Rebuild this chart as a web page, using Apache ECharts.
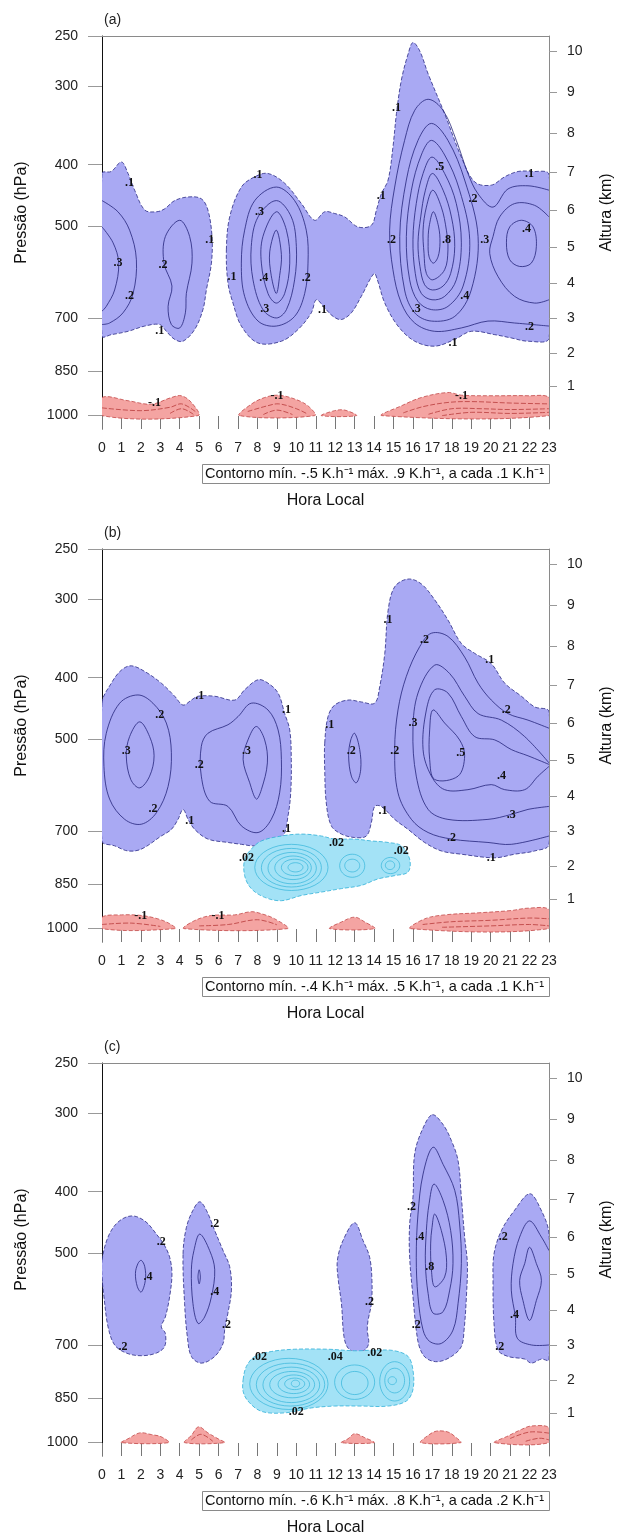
<!DOCTYPE html>
<html>
<head>
<meta charset="utf-8">
<script src="https://cdn.jsdelivr.net/npm/echarts@6.0.0/dist/echarts.min.js"></script>
<style>
html, body { margin: 0; padding: 0; background: #fff; }
#main { width: 621px; height: 1535px; }
</style>
</head>
<body>
<div id="main"></div>
<script>
// eixos
var pressaoTicks = [250, 300, 400, 500, 700, 850, 1000];
var alturaTicks = [1, 2, 3, 4, 5, 6, 7, 8, 9, 10];
var paineis = ['(a)', '(b)', '(c)'];
var legendas = [
    'Contorno mín. -.5 K.h⁻¹ máx. .9 K.h⁻¹, a cada .1 K.h⁻¹',
    'Contorno mín. -.4 K.h⁻¹ máx. .5 K.h⁻¹, a cada .1 K.h⁻¹',
    'Contorno mín. -.6 K.h⁻¹ máx. .8 K.h⁻¹, a cada .2 K.h⁻¹'
];

// ---- painel (a): [hora, hPa] ----
var aRoxo = [
    [[0,413],[0.48,410],[1.0,396],[1.34,413],[1.68,439],[2.2,472],[2.8,475],[3.22,470],[3.74,456],[4.43,450],[5.11,453],[5.45,472],[5.66,520],[5.63,573],[5.37,632],[5.2,678],[4.77,730],[4.17,762],[3.74,757],[3.31,735],[2.97,717],[2.2,721],[1.34,735],[0.48,744],[0,748]],
    [[6.4,546],[6.57,484],[7.17,434],[7.86,418],[8.54,413],[9.4,428],[10.26,461],[10.94,490],[11.46,475],[11.97,478],[12.49,484],[13.17,502],[13.86,499],[14.12,472],[14.37,445],[14.72,423],[14.97,375],[15.15,332],[15.4,294],[15.75,267],[16.0,256],[16.35,264],[16.78,287],[17.63,332],[18.49,389],[19.18,426],[20.03,431],[20.72,418],[21.41,410],[22.09,410],[23,415],[23,753],[21.92,762],[21.06,753],[20.21,744],[19.0,735],[18.15,757],[17.12,776],[16.09,762],[15.23,721],[14.55,663],[14.17,609],[14.0,595],[13.34,647],[12.83,687],[12.32,704],[11.89,696],[11.46,675],[11.03,655],[10.77,687],[10.09,730],[9.23,762],[8.03,767],[7.17,721],[6.74,663],[6.48,616]]
];
var aAneis = [
    [[8.97,434],[9.91,456],[10.51,508],[10.6,573],[10.43,640],[9.91,696],[8.97,721],[8.03,708],[7.34,647],[7.17,573],[7.34,508],[7.86,456]],
    [[8.97,456],[9.74,484],[10.0,539],[9.91,609],[9.49,679],[8.97,700],[8.28,679],[7.77,609],[7.68,539],[8.03,484]],
    [[8.97,475],[9.49,508],[9.66,573],[9.4,640],[8.97,663],[8.54,640],[8.2,573],[8.28,520]],
    [[8.97,508],[9.23,555],[9.14,600],[8.97,640],[8.71,600],[8.63,550]],
    [[4.0,490],[4.51,520],[4.63,573],[4.34,640],[4.29,687],[4.0,726],[3.57,717],[3.4,671],[3.6,623],[3.19,573],[3.26,520]],
    [[16.95,344],[17.8,366],[18.66,423],[19.35,520],[19.0,632],[18.15,696],[16.95,708],[16.09,687],[15.57,632],[15.32,520],[15.66,423],[16.26,366]],
    [[16.95,366],[17.63,386],[18.4,439],[18.92,526],[18.58,623],[17.8,671],[16.95,679],[16.26,659],[15.83,609],[15.66,520],[15.92,439],[16.43,386]],
    [[16.98,389],[17.63,413],[18.23,461],[18.49,532],[18.23,609],[17.63,647],[16.98,655],[16.43,640],[16.12,595],[16.0,526],[16.17,461],[16.52,413]],
    [[17.0,413],[17.55,439],[17.98,484],[18.15,539],[17.94,595],[17.55,623],[17.0,632],[16.6,620],[16.36,580],[16.26,532],[16.4,484],[16.64,439]],
    [[17.02,439],[17.46,467],[17.72,508],[17.8,546],[17.63,587],[17.02,609],[16.69,595],[16.57,553],[16.52,508],[16.69,467]],
    [[17.05,475],[17.32,502],[17.39,532],[17.29,560],[17.05,573],[16.83,560],[16.78,532],[16.83,502]],
    [[21.58,490],[22.18,502],[22.35,539],[22.09,573],[21.49,580],[20.98,566],[20.81,532],[20.98,502]]
];
var aCurvas = [
    [[0,456],[0.82,475],[1.42,508],[1.77,566],[1.6,640],[1.08,687],[0.39,713],[0,717]],
    [[0,502],[0.57,532],[0.86,573],[0.65,632],[0.22,671],[0,683]],
    [[23,439],[21.92,432],[20.89,437],[20.12,467],[19.35,445],[18.83,413],[18.23,366],[17.55,328],[16.78,315],[16.09,328],[15.57,366],[15.06,434],[14.8,508],[14.97,587],[15.4,663],[16.09,713],[17.12,735],[18.49,726],[19.86,708],[21.23,713],[23,721]],
    [[23,484],[22.26,464],[21.23,461],[20.46,484],[20.12,520],[19.95,553],[20.38,602],[21.23,647],[22.26,663],[23,655]]
];
var aVermelho = [
    [[0,936],[1.34,947],[2.54,959],[3.57,936],[4.08,930],[4.6,953],[4.94,1000],[0,1000]],
    [[7.08,1000],[7.68,959],[8.37,936],[9.06,928],[9.91,941],[10.6,965],[10.94,1000]],
    [[11.29,1000],[11.97,982],[12.49,980],[13.09,1000]],
    [[14.41,1000],[15.4,965],[16.43,936],[17.8,919],[18.49,928],[20.21,930],[21.92,930],[23,936],[23,1000]]
];
var aVermelhoLinhas = [
    [[0,972],[2,982],[3.5,970],[4.1,958],[4.8,985]],
    [[3.5,992],[4.1,975],[4.7,995]],
    [[7.5,985],[8.5,965],[9.1,958],[10,975],[10.6,995]],
    [[8.3,996],[9.0,980],[9.8,996]],
    [[15.5,990],[16.5,968],[17.8,953],[19,950],[21,955],[23,958]],
    [[16.8,995],[18,975],[19.5,975],[21,978],[23,975]],
    [[17.5,1000],[19,988],[21,992],[23,988]]
];
var aRotulos = [
    [1.42,428,'.1'],[0.82,573,'.3'],[1.42,647,'.2'],[3.14,577,'.2'],[2.97,735,'.1'],[5.54,526,'.1'],
    [8.03,415,'.1'],[8.11,475,'.3'],[6.69,602,'.1'],[8.32,605,'.4'],[8.37,677,'.3'],[10.51,605,'.2'],
    [11.34,679,'.1'],[14.37,448,'.1'],[15.15,325,'.1'],[14.89,526,'.2'],[17.38,403,'.5'],[17.72,526,'.8'],
    [19.09,453,'.2'],[19.69,526,'.3'],[18.66,647,'.4'],[16.17,677,'.3'],[18.06,767,'.1'],[22.0,723,'.2'],
    [21.84,505,'.4'],[22.0,414,'.1'],[2.7,953,'-.1'],[9.0,930,'-.1'],[18.5,930,'-.1']
];

// ---- painel (b) ----
var bRoxo = [
    [[0,439],[0.48,408],[1.0,389],[1.51,383],[2.2,391],[3.05,408],[3.74,428],[4.17,442],[4.6,434],[4.94,428],[5.8,428],[6.83,434],[7.34,418],[8.03,403],[8.54,408],[9.06,423],[9.4,456],[9.66,484],[9.74,539],[9.71,609],[9.57,663],[9.31,713],[8.54,730],[7.86,739],[7.17,735],[6.48,730],[5.45,721],[4.77,696],[4.43,671],[4.17,647],[3.91,671],[3.57,696],[3.05,713],[2.02,748],[1.34,753],[0.65,739],[0,726]],
    [[11.46,508],[11.63,461],[11.97,442],[12.66,434],[13.34,437],[14.03,439],[14.29,413],[14.55,366],[14.72,313],[15.06,287],[15.75,279],[16.43,284],[17.12,301],[17.8,324],[18.49,353],[19.18,366],[20.03,380],[20.72,408],[21.58,428],[22.26,445],[23,453],[23,735],[22.26,753],[21.23,762],[20.21,772],[18.49,762],[17.46,753],[16.6,730],[15.75,696],[15.06,671],[14.37,640],[14.03,640],[13.86,679],[13.6,713],[13.0,717],[12.32,708],[11.8,687],[11.54,632],[11.46,560]]
];
var bAneis = [
    [[1.85,426],[2.62,439],[3.31,472],[3.57,526],[3.4,595],[2.8,655],[2.02,683],[1.17,671],[0.39,623],[0.1,553],[0.22,490],[0.91,439]],
    [[1.94,470],[2.45,496],[2.68,532],[2.45,573],[1.94,598],[1.48,580],[1.25,532],[1.42,496]],
    [[7.68,439],[8.54,450],[9.06,484],[9.23,539],[9.14,609],[8.71,671],[8.03,704],[7.17,687],[6.48,640],[5.54,628],[5.11,573],[5.11,514],[5.45,490],[6.48,475],[7.0,461]],
    [[7.94,478],[8.37,502],[8.51,546],[8.2,602],[7.94,623],[7.6,587],[7.26,539],[7.51,502]],
    [[13.0,490],[13.26,520],[13.31,560],[13.09,587],[12.83,573],[12.69,532],[12.8,502]],
    [[17.03,450],[17.63,472],[18.4,502],[18.66,532],[18.32,573],[17.12,580],[16.86,539],[16.86,484]]
];
var bCurvas = [
    [[23,481],[21.92,467],[20.89,456],[20.03,434],[19.35,408],[18.66,371],[17.8,344],[16.95,340],[16.35,357],[15.66,398],[15.23,450],[15.06,520],[15.23,609],[15.92,671],[16.78,704],[17.98,721],[19.86,730],[21.06,735],[23,713]],
    [[23,640],[21.92,647],[21.06,659],[19.86,671],[17.8,671],[16.78,647],[16.17,573],[16.0,484],[16.26,423],[17.12,382],[17.89,394],[18.66,428],[19.35,456],[20.55,467],[21.75,496],[23,546]],
    [[23,553],[22.44,573],[21.75,602],[20.72,602],[20.03,591],[18.83,602],[17.63,602],[16.95,573],[16.52,520],[16.69,450],[17.12,418],[17.8,423],[18.49,461],[19.18,496],[20.21,502],[21.06,520],[21.92,532],[23,549]]
];
var bVermelho = [
    [[0,959],[1.0,951],[2.02,953],[2.88,965],[3.48,982],[3.77,1000],[0,1000]],
    [[4.22,1000],[4.77,971],[5.63,953],[6.83,951],[7.68,940],[8.2,947],[8.89,965],[9.54,1000]],
    [[11.72,1000],[12.32,976],[13.0,959],[13.52,976],[14.03,1000]],
    [[15.88,1000],[16.6,965],[17.63,951],[19.35,944],[21.06,936],[21.92,928],[23,933],[23,1000]]
];
var bVermelhoLinhas = [
    [[0,985],[1.5,980],[3,992]],
    [[5,990],[6.5,985],[8,968],[9,986]],
    [[16.5,985],[18,975],[20,970],[22,962],[23,965]],
    [[17.5,995],[20,990],[22,985],[23,990]]
];
var bCiano = [
    [[7.34,776],[7.68,748],[8.2,726],[9.23,713],[10.26,708],[11.29,713],[11.97,721],[13.0,721],[13.86,726],[14.72,730],[15.4,739],[15.83,776],[15.75,813],[15.06,824],[14.2,834],[13.34,854],[12.32,864],[11.29,875],[10.26,886],[9.23,903],[8.37,892],[7.68,864],[7.34,824]]
];
// aneis ciano: [hora1, hora2, hPa1, hPa2]
var bCianoAneis = [
    [7.86,11.63,735,870],[8.2,11.29,746,859],[8.54,11.03,757,849],[8.89,10.77,767,836],[9.23,10.6,776,824],[9.57,10.34,786,813],
    [12.23,13.52,762,829],[12.49,13.26,776,813],
    [14.37,15.32,771,818],[14.58,15.06,781,806]
];
var bRotulos = [
    [5.03,428,'.1'],[2.97,458,'.2'],[1.25,523,'.3'],[2.62,647,'.2'],[4.51,675,'.1'],[5.0,549,'.2'],[7.43,523,'.3'],
    [9.49,450,'.1'],[9.49,696,'.1'],[7.43,771,'.02'],[12.06,730,'.02'],[15.4,753,'.02'],[11.72,475,'.1'],
    [12.83,523,'.2'],[15.06,523,'.2'],[14.72,324,'.1'],[16.6,349,'.2'],[19.95,375,'.1'],[16.0,472,'.3'],
    [18.46,526,'.5'],[20.8,450,'.2'],[20.55,573,'.4'],[21.06,659,'.3'],[14.46,651,'.1'],[17.98,717,'.2'],
    [20.03,772,'.1'],[2.0,953,'-.1'],[5.97,953,'-.1']
];

// ---- painel (c) ----
var cRoxo = [
    [[0,514],[0.31,472],[0.82,447],[1.51,437],[2.2,445],[2.8,467],[3.22,487],[3.48,508],[3.6,539],[3.48,587],[3.26,632],[3.05,655],[3.26,671],[3.22,704],[2.8,721],[2.02,728],[1.25,721],[0.65,700],[0.31,655],[0.1,587],[0,546]],
    [[4.17,502],[4.34,456],[4.68,428],[5.03,415],[5.37,428],[5.8,461],[6.23,496],[6.57,526],[6.66,573],[6.48,623],[6.31,663],[6.23,696],[5.8,730],[5.11,748],[4.6,730],[4.39,679],[4.25,602]],
    [[13.0,448],[13.43,478],[13.77,508],[13.89,553],[13.86,602],[13.69,640],[13.65,663],[13.72,696],[13.52,713],[13.09,719],[12.66,708],[12.45,679],[12.32,602],[12.14,546],[12.11,514],[12.4,478]],
    [[17.0,302],[17.55,313],[17.98,332],[18.32,357],[18.49,408],[18.66,472],[18.8,520],[18.75,587],[18.63,663],[18.49,704],[17.98,730],[17.29,744],[16.69,735],[16.35,708],[16.17,663],[16.0,587],[15.83,508],[15.83,450],[16.0,408],[16.09,348],[16.52,317]],
    [[22.0,403],[22.52,423],[23,467],[23,739],[22.61,737],[22.09,748],[21.75,737],[20.89,730],[20.38,713],[20.17,647],[20.12,553],[20.17,502],[20.55,461],[21.23,428]]
];
var cAneis = [
    [[2.02,514],[2.2,526],[2.23,553],[2.02,577],[1.82,566],[1.72,539],[1.85,520]],
    [[5.03,467],[5.54,496],[5.8,532],[5.63,587],[5.28,632],[4.94,647],[4.68,602],[4.6,532],[4.73,496]],
    [[5.0,532],[5.06,546],[5.0,560],[4.94,546]],
    [[17.03,340],[17.55,362],[18.15,398],[18.4,450],[18.49,520],[18.32,602],[18.06,663],[17.46,696],[16.86,691],[16.52,663],[16.26,587],[16.17,508],[16.26,434],[16.52,375]],
    [[17.08,389],[17.55,413],[17.94,461],[18.06,520],[17.89,573],[17.55,620],[17.03,623],[16.78,580],[16.64,520],[16.69,461],[16.83,418]],
    [[17.12,434],[17.46,461],[17.72,508],[17.63,546],[17.12,566],[16.95,532],[16.91,484],[16.98,456]],
    [[22.0,490],[22.35,520],[22.61,553],[22.35,595],[22.0,640],[21.66,595],[21.49,553],[21.75,520]]
];
var cCurvas = [
    [[23,496],[22.61,472],[22.0,445],[21.49,472],[21.15,520],[21.06,573],[21.27,632],[21.37,683],[22.09,700],[23,700]]
];
var cVermelho = [
    [[1.0,1000],[1.34,986],[1.94,965],[2.54,971],[3.05,979],[3.43,1000]],
    [[4.25,1000],[4.6,974],[4.97,944],[5.45,965],[5.97,986],[6.31,1000]],
    [[12.32,1000],[12.66,986],[13.0,968],[13.52,982],[14.0,1000]],
    [[16.4,1000],[16.78,974],[17.2,959],[17.8,962],[18.23,982],[18.46,1000]],
    [[20.2,1000],[20.89,976],[21.58,953],[22.09,941],[23,947],[23,1000]]
];
var cVermelhoLinhas = [
    [[4.6,990],[5.1,970],[5.7,995]],
    [[21,985],[22,962],[23,966]],
    [[21.8,995],[22.5,984],[23,990]]
];
var cCiano = [
    [[7.26,795],[7.43,757],[7.86,730],[8.71,717],[9.91,711],[11.63,711],[13.0,715],[14.2,713],[15.06,715],[15.75,730],[16.0,767],[16.0,824],[15.66,859],[14.72,875],[13.34,875],[11.97,875],[10.77,881],[9.4,897],[8.2,892],[7.51,859],[7.26,829]]
];
var cCianoAneis = [
    [7.6,11.63,735,886],[7.94,11.46,748,875],[8.28,11.2,759,864],[8.63,10.94,771,849],[9.06,10.68,781,836],[9.4,10.43,790,824],[9.74,10.17,796,816],
    [11.97,14.03,753,854],[12.32,13.69,771,839],
    [14.29,15.83,744,859],[14.55,15.57,762,834],[14.72,15.15,786,809]
];
var cRotulos = [
    [3.05,481,'.2'],[2.37,546,'.4'],[1.08,704,'.2'],[5.8,450,'.2'],[5.8,577,'.4'],[6.4,651,'.2'],[13.77,598,'.2'],
    [15.92,423,'.2'],[16.35,472,'.4'],[16.86,526,'.8'],[16.17,651,'.2'],[20.64,472,'.2'],[21.23,628,'.4'],
    [20.46,704,'.2'],[8.11,730,'.02'],[12.0,730,'.04'],[14.03,721,'.02'],[10.0,895,'.02']
];

var paineisDados = [
    { roxo: aRoxo, aneis: aAneis, curvas: aCurvas, verm: aVermelho, vermLinhas: aVermelhoLinhas, ciano: [], cianoAneis: [], rotulos: aRotulos },
    { roxo: bRoxo, aneis: bAneis, curvas: bCurvas, verm: bVermelho, vermLinhas: bVermelhoLinhas, ciano: bCiano, cianoAneis: bCianoAneis, rotulos: bRotulos },
    { roxo: cRoxo, aneis: cAneis, curvas: cCurvas, verm: cVermelho, vermLinhas: cVermelhoLinhas, ciano: cCiano, cianoAneis: cCianoAneis, rotulos: cRotulos }
];

var topos = [36, 549, 1063];
var fonte = '"Liberation Sans", Arial, sans-serif';

function lg(p) { return Math.log10(p); }
// atmosfera padrao: altura (km) -> pressao (hPa)
function pAltura(km) { return 1013.25 * Math.pow(1 - 0.0065 * km * 1000 / 288.15, 5.25588); }
var posPressao = pressaoTicks.map(lg);
var posAltura = alturaTicks.map(function (h) { return lg(pAltura(h)); });

function serieFormas(i, formas, tipo, estilo, z) {
    return {
        type: 'custom', xAxisIndex: i * 2, yAxisIndex: i * 2, clip: true, silent: true, z: z,
        data: formas.map(function (f, k) { return [k, 3]; }),
        renderItem: function (params, api) {
            var pts = formas[params.dataIndex].map(function (q) {
                return api.coord([q[0], lg(q[1])]);
            });
            return { type: tipo, shape: { points: pts, smooth: 0.35 }, style: estilo };
        }
    };
}

function serieElipses(i, caixas, estilo, z) {
    return {
        type: 'custom', xAxisIndex: i * 2, yAxisIndex: i * 2, clip: true, silent: true, z: z,
        data: caixas.map(function (c, k) { return [k, 3]; }),
        renderItem: function (params, api) {
            var c = caixas[params.dataIndex];
            var hc = (c[0] + c[1]) / 2, dh = (c[1] - c[0]) / 2;
            var lc = (lg(c[2]) + lg(c[3])) / 2, dl = (lg(c[3]) - lg(c[2])) / 2;
            var pts = [];
            for (var k = 0; k < 36; k++) {
                var t = k / 36 * Math.PI * 2;
                pts.push(api.coord([hc + dh * Math.cos(t), lc + dl * Math.sin(t)]));
            }
            return { type: 'polygon', shape: { points: pts }, style: estilo };
        }
    };
}

function serieRotulos(i, rotulos) {
    return {
        type: 'custom', xAxisIndex: i * 2, yAxisIndex: i * 2, silent: true, z: 10,
        data: rotulos.map(function (r, k) { return [k, 3]; }),
        renderItem: function (params, api) {
            var r = rotulos[params.dataIndex];
            var c = api.coord([r[0], lg(r[1])]);
            return {
                type: 'text', x: c[0], y: c[1],
                style: { text: r[2], font: 'bold 12px "Liberation Serif", serif', fill: '#111', align: 'center', verticalAlign: 'middle' }
            };
        }
    };
}

var grids = [], xAxes = [], yAxes = [], series = [], graficos = [];

paineisDados.forEach(function (d, i) {
    var T = topos[i];
    grids.push({ left: 102, width: 447, top: T, height: 393, outerBoundsMode: 'none' });
    xAxes.push({
        gridIndex: i, type: 'value', min: 0, max: 23, interval: 1, position: 'bottom',
        name: 'Hora Local', nameLocation: 'middle', nameGap: 64,
        nameTextStyle: { fontSize: 16, color: '#111', fontFamily: fonte },
        axisLine: { show: false, onZero: false },
        axisTick: { show: true, inside: true, length: 13, lineStyle: { color: '#777' } },
        axisLabel: { fontSize: 14, color: '#222', margin: 12, fontFamily: fonte },
        splitLine: { show: false }
    });
    xAxes.push({
        gridIndex: i, type: 'value', min: 0, max: 23, position: 'top',
        axisLine: { show: true, onZero: false, lineStyle: { color: '#8a8a8a' } },
        axisTick: { show: false }, axisLabel: { show: false }, splitLine: { show: false }
    });
    yAxes.push({
        gridIndex: i, type: 'value', inverse: true, min: lg(250), max: lg(1050), position: 'left',
        name: 'Pressão (hPa)', nameLocation: 'middle', nameGap: 72, nameRotate: 90,
        nameTextStyle: { fontSize: 16, color: '#111', fontFamily: fonte, padding: [0, 0, 0, 40] },
        axisLine: { show: true, onZero: false, lineStyle: { color: '#111' } },
        axisTick: { show: true, length: 14, customValues: posPressao, lineStyle: { color: '#999' } },
        axisLabel: {
            customValues: posPressao, fontSize: 14, color: '#222', margin: 24, fontFamily: fonte,
            formatter: function (v) { return String(Math.round(Math.pow(10, v))); }
        },
        splitLine: { show: false }
    });
    yAxes.push({
        gridIndex: i, type: 'value', inverse: true, min: lg(250), max: lg(1050), position: 'right',
        name: 'Altura (km)', nameLocation: 'middle', nameGap: 50, nameRotate: 90,
        nameTextStyle: { fontSize: 16, color: '#111', fontFamily: fonte, padding: [0, 0, 0, 40] },
        axisLine: { show: true, onZero: false, lineStyle: { color: '#8a8a8a' } },
        axisTick: { show: true, inside: false, length: 8, customValues: posAltura, lineStyle: { color: '#999' } },
        axisLabel: {
            customValues: posAltura, fontSize: 14, color: '#222', margin: 18, fontFamily: fonte,
            formatter: function (v) {
                var best = 0;
                posAltura.forEach(function (p, k) { if (Math.abs(p - v) < Math.abs(posAltura[best] - v)) best = k; });
                return String(alturaTicks[best]);
            }
        },
        splitLine: { show: false }
    });

    series.push(serieFormas(i, d.roxo, 'polygon', { fill: '#a9a9f3', stroke: '#2a2a85', lineWidth: 0.8, lineDash: [4, 2] }, 1));
    series.push(serieFormas(i, d.verm, 'polygon', { fill: '#f4a4a2', stroke: '#c24848', lineWidth: 0.8, lineDash: [4, 2] }, 1));
    series.push(serieFormas(i, d.ciano, 'polygon', { fill: '#a3e2f6', stroke: '#2fb0d8', lineWidth: 0.8, lineDash: [4, 2] }, 2));
    series.push(serieFormas(i, d.aneis, 'polygon', { fill: 'none', stroke: '#23237a', lineWidth: 0.8 }, 3));
    series.push(serieFormas(i, d.curvas, 'polyline', { fill: 'none', stroke: '#23237a', lineWidth: 0.8 }, 3));
    series.push(serieFormas(i, d.vermLinhas, 'polyline', { fill: 'none', stroke: '#b83a3a', lineWidth: 0.8, lineDash: [5, 2] }, 3));
    series.push(serieElipses(i, d.cianoAneis, { fill: 'none', stroke: '#33b4da', lineWidth: 0.7 }, 3));
    series.push(serieRotulos(i, d.rotulos));

    graficos.push({
        type: 'text', x: 104, y: T - 16,
        style: { text: paineis[i], font: '14px ' + fonte, fill: '#222', textVerticalAlign: 'middle', verticalAlign: 'middle' }
    });
    graficos.push({
        type: 'rect', shape: { x: 202.5, y: T + 428.5, width: 347, height: 19 },
        style: { fill: 'none', stroke: '#8a8a8a', lineWidth: 1 }
    });
    graficos.push({
        type: 'text', x: 205, y: T + 438,
        style: { text: legendas[i], font: '14.5px ' + fonte, fill: '#111', textVerticalAlign: 'middle', verticalAlign: 'middle' }
    });
});

var chart = echarts.init(document.getElementById('main'), null, { renderer: 'canvas' });
chart.setOption({
    animation: false,
    backgroundColor: '#ffffff',
    grid: grids,
    xAxis: xAxes,
    yAxis: yAxes,
    graphic: graficos,
    series: series
});
</script>
</body>
</html>
